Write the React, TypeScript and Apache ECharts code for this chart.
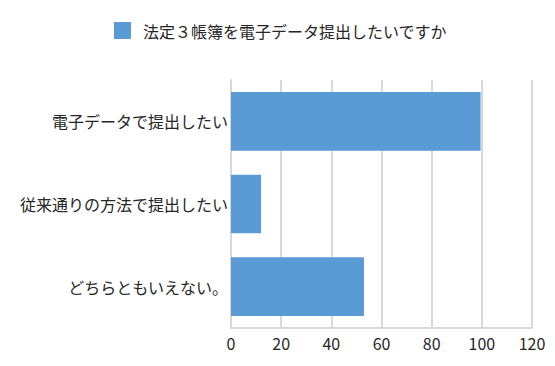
import React, { useEffect, useRef } from "react";
import * as echarts from "echarts";

const categories = ["どちらともいえない。", "従来通りの方法で提出したい", "電子データで提出したい"];
const values = [53, 12, 99.5];
const seriesName = "法定３帳簿を電子データ提出したいですか";
const xTicks = { min: 0, max: 120, interval: 20 };

export default function App() {
  const ref = useRef<HTMLDivElement>(null);
  useEffect(() => {
    if (!ref.current) return;
    const chart = echarts.init(ref.current, undefined, { renderer: "svg" });
    const font = "'Noto Sans CJK JP', sans-serif";
    chart.setOption({
      animation: false,
      textStyle: { fontFamily: font },
      legend: {
        top: 22,
        left: 114,
        padding: 0,
        itemWidth: 17,
        itemHeight: 17,
        itemGap: 10,
        icon: "rect",
        textStyle: { fontSize: 16, color: "#262626", fontFamily: font, padding: [0, 0, 0, 7] },
        data: [seriesName],
      },
      grid: { left: 231, right: 23, top: 80, bottom: 38, containLabel: false },
      xAxis: {
        type: "value",
        min: xTicks.min,
        max: xTicks.max,
        interval: xTicks.interval,
        axisLine: { show: true, lineStyle: { color: "#d9d9d9", width: 2 } },
        axisTick: { show: false },
        splitLine: { show: true, lineStyle: { color: "#d9d9d9", width: 2 } },
        axisLabel: { fontSize: 16, color: "#262626", margin: 7, fontFamily: font },
      },
      yAxis: {
        type: "category",
        data: categories,
        axisLine: { show: true, lineStyle: { color: "#d9d9d9", width: 2 } },
        axisTick: { show: false },
        axisLabel: { fontSize: 16, color: "#262626", margin: 3, fontFamily: font },
      },
      series: [
        {
          name: seriesName,
          type: "bar",
          data: values,
          barCategoryGap: "29%",
          itemStyle: { color: "#5B9BD5" },
        },
      ],
    });
    return () => chart.dispose();
  }, []);
  return <div ref={ref} style={{ width: 555, height: 366, position: "absolute", left: 0, top: 0 }} />;
}
